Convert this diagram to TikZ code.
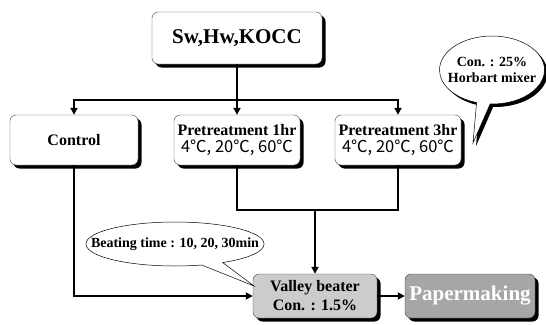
\documentclass[tikz,border=0pt]{standalone}
\usepackage{fontspec}
\setmainfont{Liberation Serif}
\newfontfamily\krfont{Noto Sans CJK KR}
\usetikzlibrary{arrows.meta,shadows,shapes.callouts}
\begin{document}
\begin{tikzpicture}[x=1pt,y=-1pt,
  box/.style={draw=black!75,line width=0.4pt,rounded corners=6pt,fill=white,
    drop shadow={shadow xshift=3.5pt,shadow yshift=-3.5pt,fill=black,opacity=1},
    minimum height=50pt,inner sep=1pt,align=center,
    font=\bfseries\fontsize{16}{17}\selectfont},
  flow/.style={line width=2.6pt},
  flowarr/.style={flow,-{Triangle[length=7pt,width=7pt]}},
  bubble/.style={ellipse callout,draw,fill=white,line width=0.5pt,align=center,
    font=\bfseries\fontsize{14}{16}\selectfont}]
\useasboundingbox (0,0) rectangle (546,324);
% boxes
\node[box,minimum width=170pt,minimum height=52pt,font=\bfseries\fontsize{21}{24}\selectfont] (src) at (237,38) {Sw,Hw,KOCC};
\node[box,minimum width=128pt] (ctrl) at (74,140) {Control};
\node[box,minimum width=126pt] (pre1) at (237,140) {Pretreatment 1hr\\{\krfont\mdseries\fontsize{16.5}{18}\selectfont 4℃, 20℃, 60℃}};
\node[box,minimum width=126pt] (pre3) at (398,140) {Pretreatment 3hr\\{\krfont\mdseries\fontsize{16.5}{18}\selectfont 4℃, 20℃, 60℃}};
\node[box,minimum width=124pt,minimum height=44pt,fill=gray!40] (beater) at (315,296) {Valley beater\\[2pt]Con. : 1.5\%};
\node[box,minimum width=130pt,minimum height=44pt,fill=gray!70,text=white,
  font=\bfseries\fontsize{21}{24}\selectfont] (paper) at (470,296) {Papermaking};
% connectors
\coordinate (bus) at (237,100);
\coordinate (merge) at (315,210);
\draw[flowarr] (src.south) -- (pre1.north);
\draw[flowarr] (bus) -| (ctrl.north);
\draw[flowarr] (bus) -| (pre3.north);
\draw[flow] (pre1.south) |- (merge) -| (pre3.south);
\draw[flowarr] (merge) -- (beater.north);
\draw[flowarr] (ctrl.south) |- (beater.west);
\draw[flowarr] (beater.east) -- (paper.west);
% callouts
\node[bubble,inner xsep=-21pt,inner ysep=0pt,minimum height=44pt,
  callout absolute pointer={(254,286)}] (beat) at (175,244) {Beating time : 10, 20, 30min};
\node[bubble,inner xsep=-7pt,inner ysep=0pt,minimum width=102pt,minimum height=68pt,
  drop shadow={shadow xshift=3pt,shadow yshift=-3pt,fill=black,opacity=1},
  callout absolute pointer={(473,143)}] (mix) at (492,70) {Con. : 25\%\\Horbart mixer};
\end{tikzpicture}
\end{document}
